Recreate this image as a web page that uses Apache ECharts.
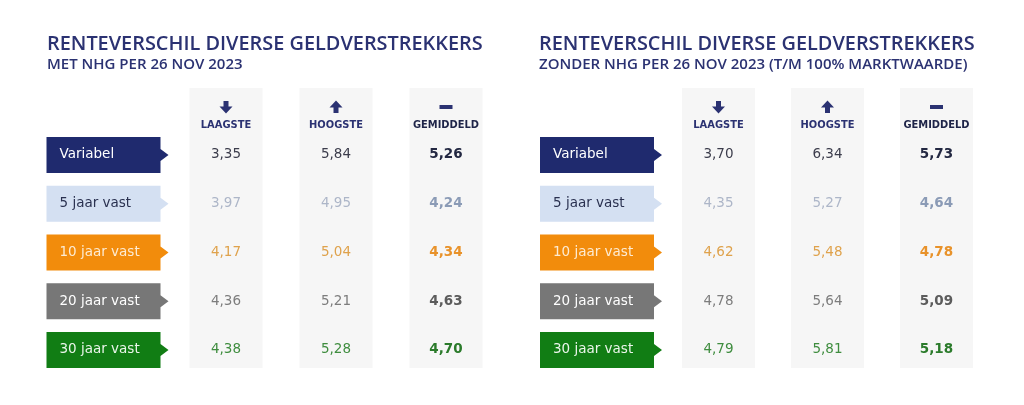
<!DOCTYPE html>
<html>
<head>
<meta charset="utf-8">
<script src="https://cdn.jsdelivr.net/npm/echarts@6/dist/echarts.min.js"></script>
<style>
html,body{margin:0;padding:0;background:#ffffff;}
#chart{width:1024px;height:405px;}
</style>
</head>
<body>
<div id="chart"></div>
<script>
// ---- data ----
const rows = ['Variabel', '5 jaar vast', '10 jaar vast', '20 jaar vast', '30 jaar vast'];
const columns = ['LAAGSTE', 'HOOGSTE', 'GEMIDDELD'];
const titleMain = 'RENTEVERSCHIL DIVERSE GELDVERSTREKKERS';
const subLeft = 'MET NHG PER 26 NOV 2023';
const subRight = 'ZONDER NHG PER 26 NOV 2023 (T/M 100% MARKTWAARDE)';

const nhgLow  = [3.35, 3.97, 4.17, 4.36, 4.38];
const nhgHigh = [5.84, 4.95, 5.04, 5.21, 5.28];
const nhgAvg  = [5.26, 4.24, 4.34, 4.63, 4.70];

const noNhgLow  = [3.70, 4.35, 4.62, 4.78, 4.79];
const noNhgHigh = [6.34, 5.27, 5.48, 5.64, 5.81];
const noNhgAvg  = [5.73, 4.64, 4.78, 5.09, 5.18];

// ---- styles ----
const navy = '#2b3272';
const rowFill   = ['#1f2a6e', '#d4e0f2', '#f28c0c', '#777777', '#117d14'];
const rowText   = ['#ffffff', '#2a3150', '#fdebd2', '#ffffff', '#eaf5ea'];
const valColor  = ['#3c3d4c', '#adb6c8', '#dfa24c', '#7d7d7d', '#3f8d3f'];
const avgColor  = ['#232842', '#8b9bb6', '#e8922a', '#5c5c5c', '#2b7b2b'];
const colBg = '#f6f6f6';

const fmt = v => v.toFixed(2).replace('.', ',');
const FONT = '"DejaVu Sans", Verdana, sans-serif';

const chart = echarts.init(document.getElementById('chart'), null, {renderer: 'canvas'});

function panelSeries(gi, low, high, avg) {
  const colData = columns.map((c, i) => [i + 1, 0]);
  const boxData = rows.map((r, i) => [0, i]);
  const valData = [];
  rows.forEach((r, i) => {
    valData.push([1, i, low[i]], [2, i, high[i]], [3, i, avg[i]]);
  });
  return [
    {
      type: 'custom', xAxisIndex: gi, yAxisIndex: gi, data: colData, silent: true, z: 1,
      renderItem: (params, api) => {
        const c = api.value(0);
        const top = api.coord([c, 0]);
        const bot = api.coord([c, rows.length - 1]);
        const cx = top[0], y0 = top[1];
        const iy = y0 - 48;
        let icon;
        if (c === 1) {
          icon = {type: 'polygon', shape: {points: [[cx-2.5, iy-6],[cx+2.5, iy-6],[cx+2.5, iy-0.5],[cx+6.5, iy-0.5],[cx, iy+6.5],[cx-6.5, iy-0.5],[cx-2.5, iy-0.5]]}, style: {fill: navy}};
        } else if (c === 2) {
          icon = {type: 'polygon', shape: {points: [[cx-2.5, iy+6],[cx+2.5, iy+6],[cx+2.5, iy+0.5],[cx+6.5, iy+0.5],[cx, iy-6.5],[cx-6.5, iy+0.5],[cx-2.5, iy+0.5]]}, style: {fill: navy}};
        } else {
          icon = {type: 'rect', shape: {x: cx - 6.5, y: iy - 2, width: 13, height: 4}, style: {fill: navy}};
        }
        return {
          type: 'group',
          children: [
            {type: 'rect', shape: {x: cx - 36.5, y: y0 - 67, width: 73, height: bot[1] + 18 - (y0 - 67)}, style: {fill: colBg}},
            icon,
            {type: 'text', x: cx, y: y0 - 30, style: {text: columns[c - 1], fill: c === 3 ? '#1e2448' : navy, font: 'bold 11px "DejaVu Sans Condensed", "DejaVu Sans", sans-serif', align: 'center', verticalAlign: 'middle'}}
          ]
        };
      }
    },
    {
      type: 'custom', xAxisIndex: gi, yAxisIndex: gi, data: boxData, silent: true, z: 2,
      renderItem: (params, api) => {
        const r = api.value(1);
        const p = api.coord([0, r]);
        const left = p[0] - 69.5, right = p[0] + 44.5, cy = p[1];
        return {
          type: 'group',
          children: [
            {type: 'polygon', shape: {points: [[left, cy-18],[right, cy-18],[right, cy-6],[right+8, cy],[right, cy+6],[right, cy+18],[left, cy+18]]}, style: {fill: rowFill[r]}},
            {type: 'text', x: left + 13, y: cy, style: {text: rows[r], fill: rowText[r], font: '13.5px ' + FONT, align: 'left', verticalAlign: 'middle'}}
          ]
        };
      }
    },
    {
      type: 'custom', xAxisIndex: gi, yAxisIndex: gi, data: valData, silent: true, z: 3,
      renderItem: (params, api) => {
        const c = api.value(0), r = api.value(1), v = api.value(2);
        const p = api.coord([c, r]);
        const bold = c === 3;
        return {type: 'text', x: p[0], y: p[1], style: {text: fmt(v), fill: bold ? avgColor[r] : valColor[r], font: (bold ? 'bold ' : '') + '13.5px ' + FONT, align: 'center', verticalAlign: 'middle'}};
      }
    }
  ];
}

const axisX = gi => ({type: 'category', gridIndex: gi, data: [''].concat(columns), show: false});
const axisY = gi => ({type: 'category', gridIndex: gi, data: rows, inverse: true, show: false});

const titleStyle = {fontFamily: '"Open Sans", sans-serif', fontWeight: 600, fontSize: 19.9, color: navy};
const subStyle = {fontFamily: '"Open Sans", sans-serif', fontWeight: 600, fontSize: 15, color: navy};

chart.setOption({
  animation: false,
  backgroundColor: '#ffffff',
  title: [
    {text: titleMain, subtext: subLeft, left: 42, top: 29, itemGap: 3, textStyle: titleStyle, subtextStyle: subStyle},
    {text: titleMain, subtext: subRight, left: 534, top: 29, itemGap: 3, textStyle: titleStyle, subtextStyle: subStyle}
  ],
  grid: [
    {left: 61, width: 440, top: 130.6, height: 243.75},
    {left: 555, width: 436, top: 130.6, height: 243.75}
  ],
  xAxis: [axisX(0), axisX(1)],
  yAxis: [axisY(0), axisY(1)],
  series: [].concat(
    panelSeries(0, nhgLow, nhgHigh, nhgAvg),
    panelSeries(1, noNhgLow, noNhgHigh, noNhgAvg)
  )
});
</script>
</body>
</html>
